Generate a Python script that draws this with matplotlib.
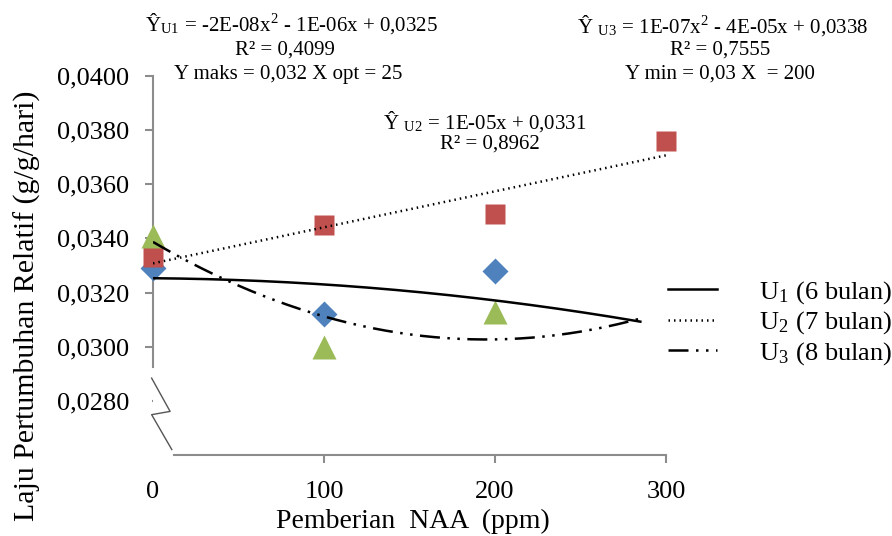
import numpy as np
import matplotlib
matplotlib.use("Agg")
import matplotlib.pyplot as plt

plt.rcParams['font.family'] = ['Liberation Serif', 'DejaVu Serif']
plt.rcParams['mathtext.fontset'] = 'stix'

# ---- data ----
naa = [0, 100, 200, 300]
u1_vals = [0.0329, 0.0312, 0.0328]
u2_vals = [0.0333, 0.0345, 0.0349, 0.0376]
u3_vals = [0.0341, 0.0300, 0.0313]
u1_trend = [-1.8e-8, -0.5e-6, 0.03253]   # quadratic coeffs (as drawn)
u3_trend = [9.5e-8, -3.7e-5, 0.03387]
trend_end = 285
y_ticks = [0.0280, 0.0300, 0.0320, 0.0340, 0.0360, 0.0380, 0.0400]
y_ticklabels = ['0,0280', '0,0300', '0,0320', '0,0340', '0,0360', '0,0380', '0,0400']
x_ticks = [0, 100, 200, 300]
legend_labels = ['U$_{\\mathregular{1}}$ (6 bulan)', 'U$_{\\mathregular{2}}$ (7 bulan)', 'U$_{\\mathregular{3}}$ (8 bulan)']

W, H = 892, 536
fig = plt.figure(figsize=(W/100, H/100), dpi=100)
ax = fig.add_axes([153/W, 1-455/H, (666-153)/W, (455-76)/H])
ax.set_xlim(0, 300)
ax.set_ylim(0.026, 0.040)

blue, red, green = '#4F81BD', '#C0504D', '#9BBB59'
ax.plot(naa[:3], u1_vals, 'D', color=blue, ms=13, mec='none', clip_on=False, zorder=3)
ax.plot(naa, u2_vals, 's', color=red, ms=15, mec='none', clip_on=False, zorder=3)
ax.plot(naa[:3], u3_vals, '^', color=green, ms=17, mec='none', clip_on=False, zorder=3)

xs = np.linspace(0, trend_end, 200)
l1, = ax.plot(xs, np.polyval(u1_trend, xs), '-', color='black', lw=1.8, zorder=4)
u2c = np.polyfit(naa, u2_vals, 1)
xs2 = np.linspace(0, 300, 200)
l2, = ax.plot(xs2, np.polyval(u2c, xs2), color='black', lw=1.8, linestyle=(0, (0.6, 1.6)), zorder=4)
l3, = ax.plot(xs, np.polyval(u3_trend, xs), color='black', lw=1.8, dashes=(8, 3, 1, 3, 1, 3), zorder=4)

for s in ['top', 'right']:
    ax.spines[s].set_visible(False)
ax.spines['left'].set_bounds(0.02925, 0.040)
ax.spines['bottom'].set_bounds(12, 300)
for s in ['left', 'bottom']:
    ax.spines[s].set_color('#8c8c8c')
    ax.spines[s].set_linewidth(1.5)

ax.set_yticks(y_ticks)
ax.set_yticklabels(y_ticklabels, fontsize=19)
ax.set_xticks(x_ticks)
ax.set_xticklabels([str(v) for v in x_ticks], fontsize=19)
ax.tick_params(axis='both', colors='#8c8c8c', length=6, width=1.5, labelcolor='black')
ax.tick_params(axis='y', pad=11)
ax.tick_params(axis='x', pad=13)
ax.yaxis.get_major_ticks()[0].tick1line.set_markersize(1)
ax.xaxis.get_major_ticks()[0].tick1line.set_visible(False)

# axis break zigzag
zz_x = [-0.8, 10, -0.8, 11]
zz_y = [0.02884, 0.02761, 0.02749, 0.02620]
ax.plot(zz_x, zz_y, color='#555555', lw=1.0, clip_on=False)

def ftxt(x, y, s, fs=15, **kw):
    fig.text(x/W, 1-y/H, s, fontsize=fs, ha='center', va='center', **kw)

ftxt(413, 521, 'Pemberian  NAA  (ppm)', fs=20)
ftxt(27, 306, 'Laju Pertumbuhan Relatif (g/g/hari)', fs=21.5, rotation=90)

ftxt(292, 24, 'Ŷ$_{\\mathregular{U1}}$ = -2E-08x$^{\\mathregular{2}}$ - 1E-06x + 0,0325')
ftxt(285, 50, 'R² = 0,4099')
ftxt(288, 74, 'Y maks = 0,032 X opt = 25')
ftxt(723, 26, 'Ŷ $_{\\mathregular{U3}}$ = 1E-07x$^{\\mathregular{2}}$ - 4E-05x + 0,0338')
ftxt(720, 50, 'R² = 0,7555')
ftxt(720, 74, 'Y min = 0,03 X  = 200')
ftxt(485, 122, 'Ŷ $_{\\mathregular{U2}}$ = 1E-05x + 0,0331')
ftxt(490, 144, 'R² = 0,8962')

fig.legend([l1, l2, l3], legend_labels, loc='center left', bbox_to_anchor=(668/W, 1-323/H),
           frameon=False, fontsize=19, handlelength=1.86, handletextpad=1.6,
           labelspacing=0.13, borderpad=0, borderaxespad=0)

fig.savefig('out.png', dpi=100)
